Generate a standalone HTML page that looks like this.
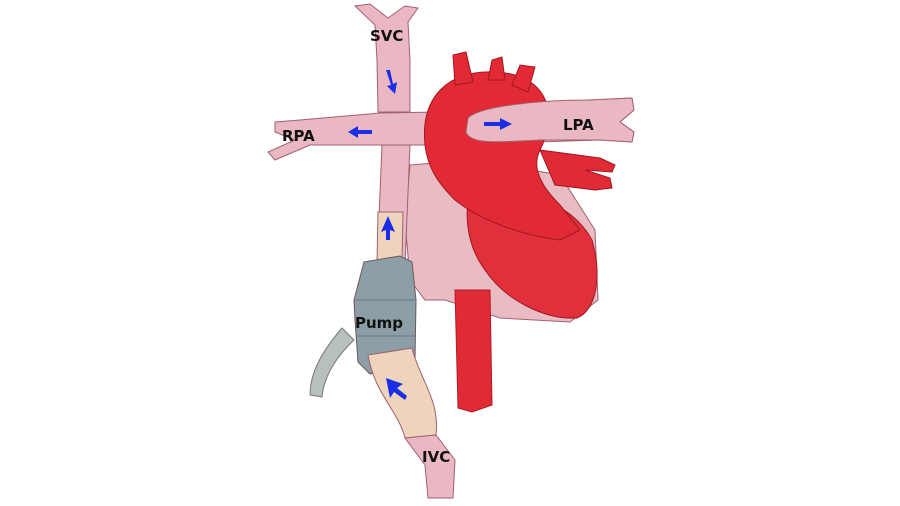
<!DOCTYPE html>
<html><head><style>
html,body{margin:0;padding:0;background:#fff;width:900px;height:506px;overflow:hidden}
text{font-family:"DejaVu Sans","Liberation Sans",sans-serif;font-weight:bold;font-size:15px;fill:#111}
</style></head><body>
<svg width="900" height="506" viewBox="0 0 900 506" xmlns="http://www.w3.org/2000/svg">
<g stroke="#a06070" stroke-width="1">
<path d="M410,165 L470,160 L560,175 L595,230 L598,300 L570,322 L500,318 L445,300 L425,300 L410,280 L405,220 Z" fill="#e9bcc4"/>
<path d="M455,290 L490,290 L492,405 L472,412 L458,408 Z" fill="#e02a36" stroke="#b01c28"/>
<path d="M468,200 C520,185 570,200 592,240 C602,275 597,310 577,318 C545,320 505,300 485,270 C470,250 465,225 468,200 Z" fill="#e0303c" stroke="#a01820"/>
<path d="M540,150 L600,158 L615,165 L612,172 L585,170 L610,178 L612,188 L595,190 L555,185 Z" fill="#e02a36" stroke="#a01820"/>
<path d="M355,6 L370,4 L388,18 L405,6 L418,8 L408,22 L410,60 L410,112 L378,112 L377,60 L375,25 Z" fill="#eab8c2"/>
<path d="M275,122 L300,120 L380,113 L440,112 L590,100 L632,98 L634,110 L620,122 L634,132 L632,142 L600,140 L440,145 L410,145 L310,145 L275,160 L268,152 L295,140 L275,132 Z" fill="#eab8c2"/>
<path d="M382,145 L410,145 L405,265 L377,265 Z" fill="#eab8c2"/>
<path d="M425,145 C420,95 450,70 495,72 C545,74 560,110 540,150 C530,170 545,190 560,205 L580,230 L560,240 C520,235 480,220 455,200 C440,185 428,170 425,145 Z" fill="#e22a36" stroke="#a01820"/>
<path d="M455,85 L453,55 L466,52 L473,82 Z M488,80 L492,60 L502,57 L505,80 Z M512,85 L520,65 L535,67 L528,92 Z" fill="#e22a36" stroke="#a01820"/>
<path d="M468,118 C480,106 540,100 590,100 L632,98 L634,110 L620,122 L634,132 L632,142 L600,140 L540,140 C500,142 470,145 466,132 Z" fill="#eab8c2"/>
<path d="M378,212 L403,212 L402,262 L377,262 Z" fill="#eed4bc"/>
<path d="M342,328 C325,348 310,370 310,395 L322,397 C324,375 338,355 354,340 Z" fill="#b8c0bc" stroke="#777"/>
<path d="M364,262 L400,256 L412,262 L416,300 L415,360 L370,374 L358,362 L355,320 L354,300 Z" fill="#8c9ea6" stroke="#6a5a5a"/>
<path d="M354,300 L416,300 M356,336 L416,336" stroke="#6a7880" fill="none"/>
<path d="M368,355 L412,348 C420,380 440,400 436,435 L405,438 C398,410 375,395 368,355 Z" fill="#eed4bc"/>
<path d="M405,438 L436,435 L455,460 L453,498 L428,498 L425,465 Z" fill="#eab8c2"/>
</g>
<g fill="#1a2ee6">
<path d="M386,70 L390,70 L393,84 L397,82 L395,94 L387,86 L391,85 Z"/>
<path d="M348,132 L358,126 L358,130 L372,130 L372,134 L358,134 L358,138 Z"/>
<path d="M484,122 L500,122 L500,118 L512,124 L500,130 L500,126 L484,126 Z"/>
<path d="M388,216 L381,232 L386,230 L386,240 L390,240 L390,230 L395,232 Z"/>
<path d="M386,378 L390,398 L394,392 L405,400 L407,396 L397,388 L403,384 Z"/>
</g>
<text x="370" y="41">SVC</text>
<text x="282" y="141">RPA</text>
<text x="563" y="130">LPA</text>
<text x="355" y="328">Pump</text>
<text x="422" y="462">IVC</text>
</svg>
</body></html>
